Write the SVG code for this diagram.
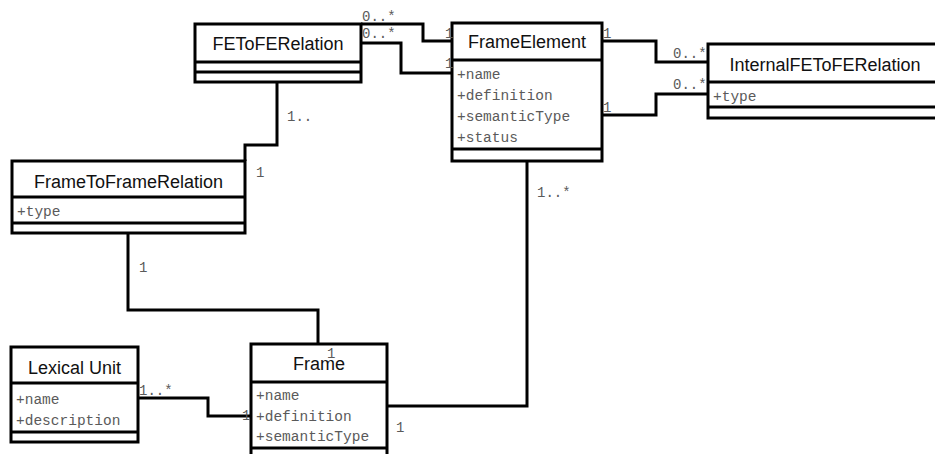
<svg xmlns="http://www.w3.org/2000/svg" width="935" height="454" viewBox="0 0 935 454">
<style>
.box{fill:#fff;stroke:#000;stroke-width:3}
.sep{stroke:#000;stroke-width:3}
.conn{fill:none;stroke:#000;stroke-width:3}
.title{font-family:"Liberation Sans",Arial,sans-serif;font-size:18px;fill:#111;text-anchor:middle}
.attr{font-family:"Liberation Mono","Courier New",monospace;font-size:14.5px;fill:#5a5a5a}
.mult{font-family:"Liberation Mono","Courier New",monospace;font-size:14px;fill:#5a5a5a}
</style>
<rect width="935" height="454" fill="#fff"/>
<g id="FEToFERelation">
<rect class="box" x="195" y="24" width="166" height="58"/>
<line class="sep" x1="195" y1="62" x2="361" y2="62"/>
<line class="sep" x1="195" y1="72" x2="361" y2="72"/>
<text class="title" x="278" y="50">FEToFERelation</text>
</g>
<g id="FrameElement">
<rect class="box" x="452" y="23" width="150" height="138"/>
<line class="sep" x1="452" y1="60" x2="602" y2="60"/>
<line class="sep" x1="452" y1="149" x2="602" y2="149"/>
<text class="title" x="527" y="48">FrameElement</text>
<text class="attr" x="457" y="79">+name</text>
<text class="attr" x="457" y="100">+definition</text>
<text class="attr" x="457" y="121">+semanticType</text>
<text class="attr" x="457" y="142">+status</text>
</g>
<g id="InternalFEToFERelation">
<rect class="box" x="708" y="44" width="240" height="74"/>
<line class="sep" x1="708" y1="82" x2="948" y2="82"/>
<line class="sep" x1="708" y1="107" x2="948" y2="107"/>
<text class="title" x="825" y="71">InternalFEToFERelation</text>
<text class="attr" x="713" y="101">+type</text>
</g>
<g id="FrameToFrameRelation">
<rect class="box" x="12" y="161" width="233" height="72"/>
<line class="sep" x1="12" y1="197" x2="245" y2="197"/>
<line class="sep" x1="12" y1="223" x2="245" y2="223"/>
<text class="title" x="128.5" y="188">FrameToFrameRelation</text>
<text class="attr" x="17" y="216">+type</text>
</g>
<g id="LexicalUnit">
<rect class="box" x="11" y="347" width="127" height="95"/>
<line class="sep" x1="11" y1="383" x2="138" y2="383"/>
<line class="sep" x1="11" y1="432" x2="138" y2="432"/>
<text class="title" x="74.5" y="374">Lexical Unit</text>
<text class="attr" x="16" y="404">+name</text>
<text class="attr" x="16" y="425">+description</text>
</g>
<g id="Frame">
<rect class="box" x="251" y="344" width="136" height="125"/>
<line class="sep" x1="251" y1="382" x2="387" y2="382"/>
<line class="sep" x1="251" y1="448" x2="387" y2="448"/>
<text class="title" x="319" y="370">Frame</text>
<text class="attr" x="256" y="400">+name</text>
<text class="attr" x="256" y="421">+definition</text>
<text class="attr" x="256" y="441">+semanticType</text>
</g>
<g id="connectors">
<polyline class="conn" points="361,24 423,24 423,41 452,41"/>
<polyline class="conn" points="361,43 401,43 401,73 452,73"/>
<polyline class="conn" points="602,41 656,41 656,62 708,62"/>
<polyline class="conn" points="602,115 656,115 656,94 708,94"/>
<polyline class="conn" points="277,82 277,145 245,145 245,161"/>
<polyline class="conn" points="128,233 128,310 318,310 318,344"/>
<polyline class="conn" points="527,161 527,406 387,406"/>
<polyline class="conn" points="138,398 208,398 208,416 251,416"/>
<text class="mult" x="362" y="21">0..*</text>
<text class="mult" x="362" y="38">0..*</text>
<text class="mult" x="445" y="38">1</text>
<text class="mult" x="445" y="68">1</text>
<text class="mult" x="603" y="38">1</text>
<text class="mult" x="673" y="58">0..*</text>
<text class="mult" x="673" y="89">0..*</text>
<text class="mult" x="603" y="112">1</text>
<text class="mult" x="287" y="121">1..</text>
<text class="mult" x="256" y="177">1</text>
<text class="mult" x="537" y="197">1..*</text>
<text class="mult" x="139" y="272">1</text>
<text class="mult" x="327" y="358">1</text>
<text class="mult" x="139" y="395">1..*</text>
<text class="mult" x="242" y="420">1</text>
<text class="mult" x="396" y="432">1</text>
</g>
</svg>
